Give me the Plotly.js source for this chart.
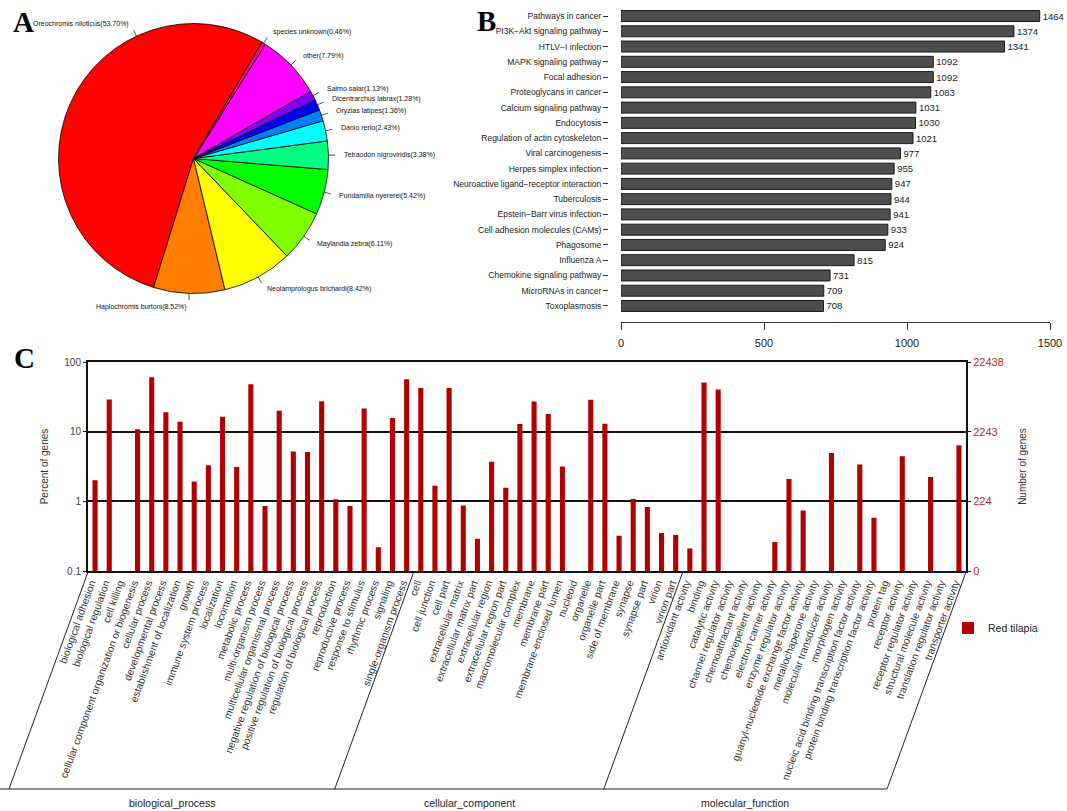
<!DOCTYPE html>
<html><head><meta charset="utf-8">
<script src="https://cdn.plot.ly/plotly-3.0.1.min.js"></script>
<style>html,body{margin:0;padding:0;background:#fff}#chart{width:1067px;height:811px}</style>
</head><body><div id="chart"></div>
<script>
// ---------- Panel A: species distribution ----------
const speciesLabels = ['Oreochromis niloticus','Haplochromis burtoni','Neolamprologus brichardi','Maylandia zebra','Pundamilia nyererei','Tetraodon nigroviridis','Danio rerio','Oryzias latipes','Dicentrarchus labrax','Salmo salar','other','species unknown'];
const speciesPercent = [53.70, 8.52, 8.42, 6.11, 5.42, 3.38, 2.43, 1.36, 1.28, 1.13, 7.79, 0.46];
const speciesColors = ['#FF0000','#FF8000','#FFFF00','#80FF00','#00FF00','#00FF80','#00FFFF','#0080FF','#0000FF','#8000FF','#FF00FF','#FF0080'];

// ---------- Panel B: KEGG pathways ----------
const pathways = ['Pathways in cancer','PI3K\u2212Akt signaling pathway','HTLV\u2212I infection','MAPK signaling pathway','Focal adhesion','Proteoglycans in cancer','Calcium signaling pathway','Endocytosis','Regulation of actin cytoskeleton','Viral carcinogenesis','Herpes simplex infection','Neuroactive ligand\u2212receptor interaction','Tuberculosis','Epstein\u2212Barr virus infection','Cell adhesion molecules (CAMs)','Phagosome','Influenza A','Chemokine signaling pathway','MicroRNAs in cancer','Toxoplasmosis'];
const pathwayGenes = [1464,1374,1341,1092,1092,1083,1031,1030,1021,977,955,947,944,941,933,924,815,731,709,708];
const pathwayTicks = [0,500,1000,1500];

// ---------- Panel C: GO classification ----------
const goGroups = ['biological_process','cellular_component','molecular_function'];
const goGroupSizes = [23,19,20];
const goTerms = ['biological adhesion','biological regulation','cell killing','cellular component organization or biogenesis','cellular process','developmental process','establishment of localization','growth','immune system process','localization','locomotion','metabolic process','multi-organism process','multicellular organismal process','negative regulation of biological process','positive regulation of biological process','regulation of biological process','reproduction','reproductive process','response to stimulus','rhythmic process','signaling','single-organism process',
 'cell','cell junction','cell part','extracellular matrix','extracellular matrix part','extracellular region','extracellular region part','macromolecular complex','membrane','membrane part','membrane-enclosed lumen','nucleoid','organelle','organelle part','side of membrane','synapse','synapse part','virion','virion part',
 'antioxidant activity','binding','catalytic activity','channel regulator activity','chemoattractant activity','chemorepellent activity','electron carrier activity','enzyme regulator activity','guanyl-nucleotide exchange factor activity','metallochaperone activity','molecular transducer activity','morphogen activity','nucleic acid binding transcription factor activity','protein binding transcription factor activity','protein tag','receptor activity','receptor regulator activity','structural molecule activity','translation regulator activity','transporter activity'];
const goPercent = [2.0,29,null,10.8,60.5,19,13.9,1.93,3.3,16.4,3.1,48,0.86,20,5.2,5.1,27.4,1.07,0.86,21.5,0.22,15.7,56.5,
 42.5,1.68,42.5,0.87,0.29,3.7,1.57,12.9,27,18,3.16,null,28.6,13,0.32,1.08,0.83,0.35,0.33,
 0.21,50.7,40.3,null,null,null,0.26,2.1,0.74,null,4.96,null,3.38,0.58,null,4.44,null,2.23,null,6.4];
const percentTicks = [0.1,1,10,100];
const percentTickText = ['0.1','1','10','100'];
const geneCountTickText = ['0','224','2243','22438'];

// ---------- geometry helpers (page pixels -> paper) ----------
const W = 1067, H = 811;
const px = x => x / W;
const py = y => 1 - y / H;

// Pie placement
const pieCx = 193.5, pieCy = 158.5, pieR = 135;
const redEndAngle = 30.5;            // clockwise from 12 o'clock
const pieRotation = redEndAngle - 360 * speciesPercent[0] / 100;
const labelAngleOverride = {0: 335}; // label of the big slice placed by the author

const shapes = [];
const annotations = [];

const midAngles = [];
{
  const tot = speciesPercent.reduce((a,b)=>a+b,0);
  const deg = speciesPercent.map(v => v / tot * 360);
  midAngles.push(pieRotation + deg[0] / 2);
  let acc = 0;
  for (let i = 1; i < deg.length; i++) {
    midAngles.push(pieRotation - acc - deg[i] / 2);
    acc += deg[i];
  }
}
speciesLabels.forEach((lab, i) => {
  const a = (labelAngleOverride[i] !== undefined ? labelAngleOverride[i] : midAngles[i]) * Math.PI / 180;
  const sx = Math.sin(a), cy = Math.cos(a);
  shapes.push({type:'line', xref:'paper', yref:'paper',
    x0: px(pieCx + pieR * sx), y0: py(pieCy - pieR * cy),
    x1: px(pieCx + 1.05 * pieR * sx), y1: py(pieCy - 1.05 * pieR * cy),
    line:{color:'#222', width:0.8}});
  annotations.push({xref:'paper', yref:'paper', showarrow:false,
    x: px(pieCx + 1.1 * pieR * sx), y: py(pieCy - 1.1 * pieR * cy),
    xanchor: sx >= 0 ? 'left' : 'right', yanchor:'middle',
    text: lab + '(' + speciesPercent[i].toFixed(2) + '%)',
    font:{size:7, color:'#111'}});
});

// Panel C group separators (paper coordinates derived from category index)
const cDomL = 88, cDomR = 966, cTop = 572, cBottom = 789;
const catPx = (cDomR - cDomL) / goTerms.length;
const slantPx = (cBottom - cTop) / Math.tan(70 * Math.PI / 180);
const catX = idx => cDomL + (idx + 0.5) * catPx;
let bounds = [-0.5];
goGroupSizes.forEach(s => bounds.push(bounds[bounds.length - 1] + s));
bounds.forEach(b => {
  shapes.push({type:'line', xref:'paper', yref:'paper', x0:px(catX(b)), y0:py(cTop),
    x1:px(catX(b) - slantPx), y1:py(cBottom), line:{color:'#222', width:1}});
});
shapes.push({type:'line', xref:'paper', yref:'paper', x0:0, y0:py(cBottom),
  x1:px(catX(bounds[bounds.length - 1]) - slantPx), y1:py(cBottom), line:{color:'#222', width:1}});
goGroups.forEach((g, i) => {
  annotations.push({xref:'paper', yref:'paper', showarrow:false,
    x: px((catX(bounds[i]) + catX(bounds[i + 1])) / 2 - slantPx), y: py(803),
    xanchor:'center', yanchor:'middle', text:g, font:{size:10.5, color:'#222'}});
});

// Panel letters
[['A',23,22],['B',486,21],['C',24,358]].forEach(([t,x,y]) => {
  annotations.push({xref:'paper', yref:'paper', showarrow:false, x:px(x), y:py(y),
    xanchor:'center', yanchor:'middle', text:'<b>' + t + '</b>',
    font:{family:'Liberation Serif, Times New Roman, serif', size:29, color:'#000'}});
});

const data = [
  {type:'pie', labels:speciesLabels, values:speciesPercent, sort:false,
   direction:'counterclockwise', rotation:pieRotation,
   marker:{colors:speciesColors, line:{color:'#000', width:0.8}},
   textinfo:'none', hoverinfo:'label+percent', showlegend:false,
   domain:{x:[px(pieCx - pieR), px(pieCx + pieR)], y:[py(pieCy + pieR), py(pieCy - pieR)]}},
  {type:'bar', orientation:'h', x:pathwayGenes, y:pathways, xaxis:'x', yaxis:'y',
   width:0.72, marker:{color:'#4d4d4d', line:{color:'#1a1a1a', width:1}},
   text:pathwayGenes.map(String), textposition:'outside', constraintext:'none',
   textfont:{size:9.5, color:'#222'}, cliponaxis:false, showlegend:false, hoverinfo:'x+y'},
  {type:'bar', x:goTerms, y:goPercent, xaxis:'x2', yaxis:'y2', name:'Red tilapia',
   width:0.36, marker:{color:'#b00000'}, showlegend:true},
  // invisible companion on the right-hand (gene count) axis so that it is drawn
  {type:'scatter', mode:'none', x:goTerms, y:goPercent, xaxis:'x2', yaxis:'y3',
   showlegend:false, hoverinfo:'skip'}
];

const layout = {
  width:W, height:H, margin:{l:0,r:0,t:0,b:0},
  paper_bgcolor:'#fff', plot_bgcolor:'rgba(0,0,0,0)',
  font:{family:'Liberation Sans, Arial, sans-serif', color:'#222'},
  showlegend:true,
  legend:{x:px(948), y:py(628), xanchor:'left', yanchor:'middle', font:{size:10.5, color:'#222'},
    bgcolor:'rgba(0,0,0,0)', itemwidth:30},
  xaxis:{domain:[px(621), px(1050)], range:[0,1500], anchor:'free', position:py(322),
    tickvals:pathwayTicks, ticks:'outside', ticklen:7, tickcolor:'#333', showline:true,
    linecolor:'#333', linewidth:1, showgrid:false, zeroline:false, ticklabelstandoff:4,
    tickfont:{size:11, color:'#222'}},
  yaxis:{domain:[py(313.6), py(8.4)], type:'category', autorange:'reversed', anchor:'free',
    position:px(608), ticks:'outside', ticklen:5, tickcolor:'#333', showline:false, showgrid:false,
    tickfont:{size:8.5, color:'#1a1a1a'}},
  xaxis2:{domain:[px(cDomL), px(cDomR)], anchor:'y2', type:'category', range:[-0.5, goTerms.length - 0.5],
    tickangle:-70, tickfont:{size:10.3, color:'#333'}, showline:true, mirror:true, linecolor:'#111',
    linewidth:2, ticks:'', showgrid:false, automargin:false, ticklabelshift:-4},
  yaxis2:{domain:[py(571), py(362)], anchor:'x2', type:'log', range:[-1,2],
    tickvals:percentTicks, ticktext:percentTickText, showgrid:true, gridcolor:'#111', gridwidth:2,
    showline:true, mirror:true, linecolor:'#111', linewidth:2, ticks:'outside', ticklen:3,
    tickcolor:'#111', tickfont:{size:10, color:'#444'}, zeroline:false, automargin:false,
    title:{text:'Percent of genes', font:{size:10, color:'#333'}, standoff:14}},
  yaxis3:{overlaying:'y2', side:'right', anchor:'x2', type:'log', range:[-1,2],
    tickvals:percentTicks, ticktext:geneCountTickText, showgrid:false, showline:false,
    ticks:'outside', ticklen:4, tickcolor:'#111', tickfont:{size:11, color:'#b3282d'},
    zeroline:false, automargin:false,
    title:{text:'Number of genes', font:{size:10, color:'#333'}, standoff:16}},
  shapes:shapes, annotations:annotations
};

Plotly.newPlot('chart', data, layout, {displayModeBar:false, staticPlot:true});
</script></body></html>
